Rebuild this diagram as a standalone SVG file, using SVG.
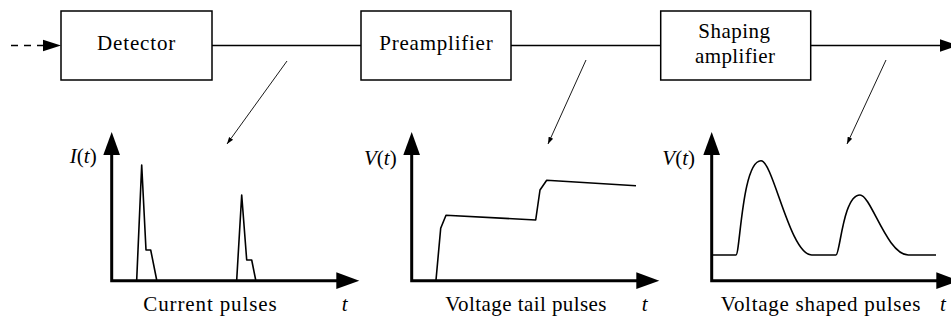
<svg xmlns="http://www.w3.org/2000/svg" width="951" height="320" viewBox="0 0 951 320">
<style>
  .box{fill:#fff;stroke:#000;stroke-width:1.5}
  .lbl{font-family:'Liberation Serif','DejaVu Serif',serif;font-size:21px;fill:#000}
  .c{text-anchor:middle}
  .it{font-style:italic}
  .wire{fill:none;stroke:#000;stroke-width:1.5}
  .thin{fill:none;stroke:#000;stroke-width:0.9}
  .axis{fill:none;stroke:#000;stroke-width:3;stroke-linejoin:miter}
  .curve{fill:none;stroke:#000;stroke-width:1.6;stroke-linejoin:round}
  .head{fill:#000;stroke:none}
</style>
<defs>
  <marker id="small" viewBox="0 0 10 10" refX="10" refY="5" markerWidth="7" markerHeight="7" markerUnits="userSpaceOnUse" orient="auto">
    <path d="M0,1.5 L10,5 L0,8.5 z" fill="#000"/>
  </marker>
</defs>

<g id="connectors">
  <line class="wire" x1="11" y1="45.5" x2="44" y2="45.5" stroke-dasharray="7 6"/>
  <polygon class="head" points="61,45.5 43,39.7 43,51.3"/>
  <line class="wire" x1="212" y1="45.5" x2="361" y2="45.5"/>
  <line class="wire" x1="511" y1="45.5" x2="660.7" y2="45.5"/>
  <line class="wire" x1="810.7" y1="45.5" x2="942" y2="45.5"/>
  <polygon class="head" points="958,45.5 940,39.3 940,51.7"/>
  <line class="thin" x1="287" y1="61" x2="227" y2="144" marker-end="url(#small)"/>
  <line class="thin" x1="586" y1="60" x2="548" y2="144" marker-end="url(#small)"/>
  <line class="thin" x1="886" y1="60" x2="847" y2="144" marker-end="url(#small)"/>
</g>

<g id="detector">
  <rect class="box" x="61" y="11" width="151" height="69"/>
  <text class="lbl c" x="136.6" y="50" letter-spacing="0.85">Detector</text>
</g>
<g id="preamplifier">
  <rect class="box" x="361" y="11" width="150" height="69"/>
  <text class="lbl c" x="436.4" y="50" letter-spacing="0.76">Preamplifier</text>
</g>
<g id="shaping-amplifier">
  <rect class="box" x="660.7" y="11" width="150" height="69"/>
  <text class="lbl c" x="734.4" y="38" letter-spacing="0.48">Shaping</text>
  <text class="lbl c" x="735.2" y="62.5" letter-spacing="0.37">amplifier</text>
</g>

<g id="plot-current">
  <polyline class="axis" points="111.7,152 111.7,280.7 338,280.7"/>
  <polygon class="head" points="111.7,132 103.3,155 120,155"/>
  <polygon class="head" points="359.3,280.7 336.3,272.3 336.3,289"/>
  <polyline class="curve" points="136.7,280 141.7,165 146,250 150.7,250 156.7,280"/>
  <polyline class="curve" points="236.7,280 241.7,195 246.7,260 251.7,260 255.7,280"/>
  <text class="lbl" x="96.7" y="163" text-anchor="end"><tspan class="it">I</tspan>(<tspan class="it">t</tspan>)</text>
  <text class="lbl c" x="210.4" y="311" letter-spacing="0.88">Current pulses</text>
  <text class="lbl it" x="341.7" y="311">t</text>
</g>

<g id="plot-tail">
  <polyline class="axis" points="411.7,152 411.7,280.7 638,280.7"/>
  <polygon class="head" points="411.7,132 403.3,155 420,155"/>
  <polygon class="head" points="659.3,280.7 636.3,272.3 636.3,289"/>
  <polyline class="curve" points="436,280 440.7,228.3 446,215.3 535.7,220 540,190 546.7,180.3 636,185.7"/>
  <text class="lbl" x="396.7" y="165" text-anchor="end"><tspan class="it">V</tspan>(<tspan class="it">t</tspan>)</text>
  <text class="lbl c" x="526.1" y="311" letter-spacing="0.43">Voltage tail pulses</text>
  <text class="lbl it" x="641.7" y="311">t</text>
</g>

<g id="plot-shaped">
  <polyline class="axis" points="711.7,152 711.7,280.7 938,280.7"/>
  <polygon class="head" points="711.7,132 703.3,155 720,155"/>
  <polygon class="head" points="959.3,280.7 936.3,272.3 936.3,289"/>
  <path class="curve" d="M712.7,255 L736,255 C740,255 742,160.7 761,160.7 C773,160.7 790,255 811.7,255 L836,255 C840,255 843,195 860,195 C871,195 887,255 908.3,255 L936,255"/>
  <text class="lbl" x="695" y="165" text-anchor="end"><tspan class="it">V</tspan>(<tspan class="it">t</tspan>)</text>
  <text class="lbl c" x="820.9" y="311" letter-spacing="0.73">Voltage shaped pulses</text>
  <text class="lbl it" x="940" y="311">t</text>
</g>
</svg>
